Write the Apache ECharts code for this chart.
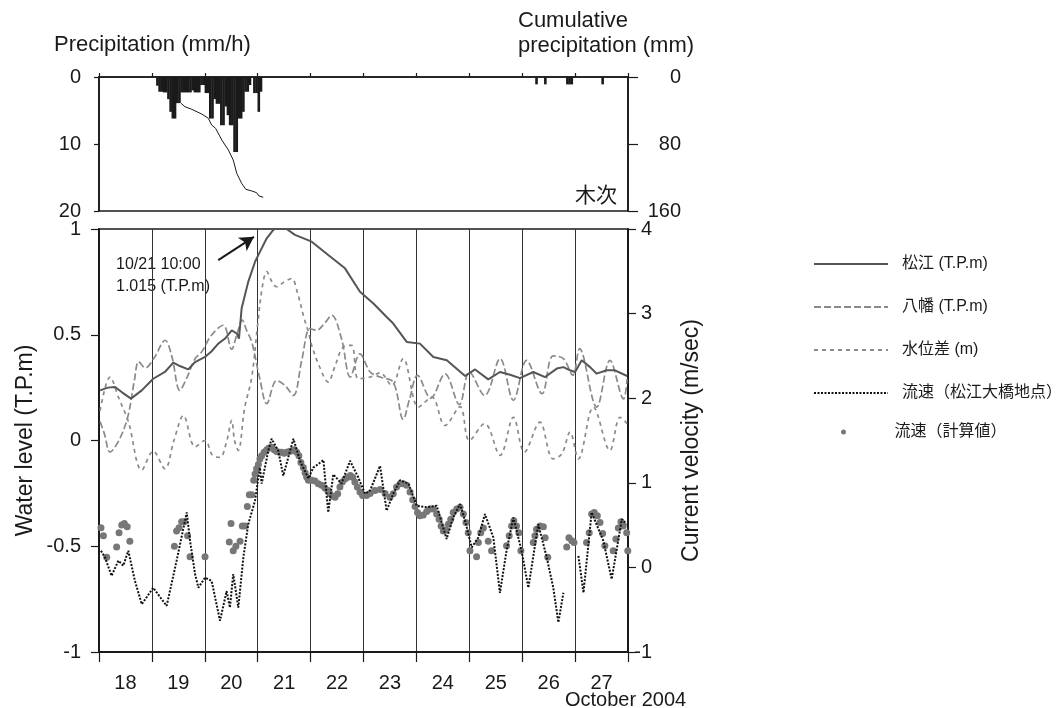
<!DOCTYPE html>
<html>
<head>
<meta charset="utf-8">
<script src="https://cdn.jsdelivr.net/npm/echarts@6/dist/echarts.min.js"></script>
<style>
  html, body { margin: 0; padding: 0; background: #fff; }
  #chart { width: 1063px; height: 708px; }
</style>
</head>
<body>
<div id="chart"></div>
<script>
// Time axis: hours counted from 2004-10-18 00:00 (10 days = 240 h)
const dayLabels = ['18', '19', '20', '21', '22', '23', '24', '25', '26', '27'];

// Hourly precipitation at 木次 (start hour, mm/h)
const rainStart = [26, 27, 28, 29, 30, 31, 32, 33, 34, 35, 36, 37, 38, 39, 40, 41, 42, 43, 44, 45,
  46, 47, 48, 49, 50, 51, 52, 53, 54, 55, 56, 57, 58, 59, 60, 61, 62, 63, 64, 65, 66, 67, 68, 69,
  70, 71, 72, 73, 198, 202, 212, 213, 214, 228];
const rainRate = [1.3, 2.2, 2.2, 2.3, 2.3, 3.3, 5.2, 6.2, 6.2, 3.9, 3.9, 2.3, 2.3, 2.3, 2.3, 2.3, 2.0, 2.3, 2.3, 2.3,
  1.2, 1.2, 2.4, 2.4, 6.2, 6.2, 3.3, 4.0, 4.0, 7.2, 7.2, 4.4, 5.7, 7.2, 7.2, 11.2, 11.2, 6.2, 6.2, 5.2, 2.2, 2.2, 1.2, 0,
  2.4, 2.4, 5.2, 2.2, 1.1, 1.1, 1.1, 1.1, 1.1, 1.1];

// Cumulative precipitation (hour, mm)
const cumulativeRain = [[37.2, 31.4], [39.0, 35.5], [42.1, 38.6], [46.6, 44.2], [49.6, 49.3], [51.1, 57.3],
  [52.9, 61.3], [55.7, 75.2], [58.7, 87.2], [60.9, 99.1], [62.5, 115], [64.7, 126.9], [66.6, 134.1],
  [69.3, 136.1], [71.5, 138.1], [72.6, 142.1], [74.5, 143.6]];

// Water level at 松江 (hour, T.P.m)
const matsue = [[0.5, 0.237], [4, 0.25], [7.3, 0.253], [10.3, 0.229], [14.5, 0.198], [19.4, 0.237], [24.6, 0.292],
  [29.9, 0.324], [33.7, 0.368], [36.7, 0.352], [40.5, 0.336], [43.6, 0.371], [48.1, 0.395], [51.1, 0.422],
  [54.1, 0.458], [57.2, 0.482], [60.2, 0.521], [62.5, 0.506], [63.5, 0.482], [64.7, 0.624], [67.7, 0.75],
  [70.8, 0.845], [73, 0.892], [76.1, 0.956], [79, 0.995], [82, 1.015], [85.1, 1.0], [88.9, 0.972],
  [96.5, 0.94], [104, 0.877], [111.6, 0.814], [118.4, 0.703], [124.5, 0.648], [130.5, 0.584], [133.5, 0.553],
  [139.6, 0.466], [145.6, 0.458], [151.7, 0.395], [157.8, 0.379], [166.1, 0.305], [170.6, 0.336],
  [176.6, 0.289], [181.9, 0.324], [186.5, 0.311], [191, 0.295], [197, 0.324], [202.4, 0.300], [207.7, 0.340],
  [210.7, 0.347], [213.7, 0.332], [216, 0.324], [219, 0.379], [222.8, 0.347], [225.8, 0.316], [230.3, 0.332],
  [234.1, 0.332], [239.6, 0.305]];

// Water level at 八幡 (hour, T.P.m)
const yawata = [[0.5, 0.09], [2.5, 0.03], [5, -0.055], [9, 0.0], [13, 0.11], [16, 0.28], [18, 0.373], [21, 0.343],
  [25, 0.39], [30, 0.474], [33, 0.40], [36.7, 0.237], [40, 0.30], [43.6, 0.387], [46.6, 0.419], [51, 0.498],
  [56.4, 0.545], [60.2, 0.431], [62.5, 0.50], [65, 0.569], [67, 0.52], [69.3, 0.466], [73, 0.29], [76.1, 0.174],
  [80.6, 0.284], [84.4, 0.26], [88.2, 0.213], [92, 0.38], [95.7, 0.529], [98.8, 0.521], [102, 0.55],
  [105.6, 0.592], [110, 0.482], [114, 0.30], [118.4, 0.41], [123, 0.324], [127.5, 0.30], [133.5, 0.276],
  [138, 0.10], [141, 0.2], [144.5, 0.308], [150.5, 0.20], [157, 0.315], [163.5, 0.17], [168, 0.324],
  [175, 0.213], [182, 0.387], [188, 0.19], [194, 0.379], [201, 0.221], [206, 0.40], [210.7, 0.387],
  [215, 0.308], [218, 0.434], [225.8, 0.158], [231.8, 0.379], [238, 0.197], [239.6, 0.29]];

// Level difference 松江 − 八幡 (hour, m)
const levelDiff = [[0.5, 0.14], [5, 0.30], [9, 0.20], [13.3, 0.09], [19.4, -0.14], [24.6, -0.05], [29.9, -0.134],
  [34, 0.0], [38.3, 0.118], [43.6, -0.03], [48.1, 0.0], [51.5, -0.07], [54.9, -0.08], [58, 0.0], [60.2, 0.095],
  [61.5, 0.0], [63.2, -0.047], [66, 0.15], [69.3, 0.30], [72, 0.55], [74, 0.72], [76.1, 0.798], [78.5, 0.75],
  [80.6, 0.727], [84, 0.75], [87.4, 0.766], [90, 0.70], [93, 0.58], [95, 0.513], [96.5, 0.45], [100, 0.35],
  [104, 0.276], [107, 0.35], [110.8, 0.442], [114.6, 0.45], [117.6, 0.292], [123, 0.30], [127.5, 0.32],
  [132.8, 0.26], [138, 0.387], [145, 0.158], [151, 0.205], [157, 0.071], [163.8, 0.16], [168, 0.0],
  [175, 0.08], [182, -0.07], [188, 0.11], [193, -0.055], [200, 0.087], [206, -0.087], [210, -0.063],
  [213.7, 0.04], [217.5, -0.087], [224.3, 0.158], [231.8, -0.047], [236.4, 0.11], [239.6, 0.08]];

// Observed current velocity at 松江大橋 (hour, m/sec); null marks missing record
const velocityObserved = [[0.9, 0.197], [2.7, 0.12], [5.7, -0.10], [8.8, 0.08], [11, 0.02], [13.3, 0.197],
  [16.3, -0.16], [19.4, -0.435], [24.6, -0.24], [28.4, -0.375], [30.7, -0.455], [35.2, 0.078], [39.8, 0.65],
  [41.3, 0.315], [43.6, -0.08], [45.1, -0.24], [48.1, -0.12], [51.1, -0.16], [54.9, -0.63], [57.9, -0.28],
  [59.4, -0.475], [60.9, -0.08], [63.2, -0.475], [65.5, 0.12], [67.7, 0.51], [70.8, 0.79], [73, 1.18],
  [73.8, 0.99], [76.8, 1.38], [78.3, 1.52], [81.3, 1.38], [83.6, 1.085], [88.2, 1.52], [91.2, 1.26],
  [95, 1.05], [97.2, 1.18], [99.5, 1.22], [101.8, 1.27], [104, 0.65], [106.3, 1.1], [110, 0.99],
  [113.9, 1.26], [117.6, 1.065], [120.7, 0.87], [123, 0.91], [127.5, 1.20], [130.5, 0.67], [133.5, 0.87],
  [136.6, 1.03], [140.4, 0.99], [144.1, 0.73], [148.7, 0.71], [153.2, 0.73], [157.7, 0.335], [160.7, 0.59],
  [163.8, 0.75], [166.1, 0.55], [169.1, 0.236], [172.1, 0.354], [175.1, 0.63], [178.9, 0.354], [181.9, -0.30],
  [184.9, 0.197], [188, 0.59], [191.7, 0.197], [194.8, -0.24], [199.3, 0.51], [203.1, 0.12], [206.1, -0.24],
  [208.4, -0.65], [210.7, -0.30], [214, null], [217.5, 0.137], [219.8, -0.30], [223.5, 0.65], [228.8, 0.315],
  [232.6, -0.14], [237.2, 0.57], [239.4, 0.51]];

// Computed current velocity (hour, m/sec)
const velocityComputed = [[0.9, 0.47], [2, 0.375], [3.5, 0.12], [8, 0.24], [9.1, 0.41], [10.3, 0.50], [11.5, 0.52],
  [12.8, 0.48], [14, 0.31], [34.2, 0.25], [35.2, 0.43], [36.3, 0.47], [37.5, 0.54], [38.7, 0.54], [40.2, 0.375],
  [41.3, 0.125], [48.1, 0.125], [59.1, 0.30], [59.9, 0.52], [60.9, 0.197], [62.1, 0.25], [64, 0.31], [65, 0.49],
  [66.2, 0.49], [67.3, 0.72], [68.2, 0.86], [69.3, 0.86], [70.2, 1.03], [70.8, 1.105], [71.5, 1.165], [72.3, 1.215],
  [73, 1.28], [73.8, 1.32], [74.9, 1.36], [76.1, 1.39], [77.1, 1.41], [78.3, 1.42], [79.5, 1.39], [80.6, 1.37],
  [81.8, 1.36], [82.8, 1.36], [84, 1.35], [85.1, 1.36], [86.3, 1.37], [87.4, 1.38], [88.6, 1.39], [89.7, 1.36],
  [90.7, 1.32], [91.6, 1.24], [92.7, 1.18], [93.5, 1.12], [94.2, 1.07], [95, 1.03], [96.5, 1.03], [98, 1.02],
  [99.5, 0.99], [101, 0.97], [102.5, 0.94], [103.8, 0.91], [104.8, 0.87], [105.9, 0.84], [107.1, 0.83],
  [108.3, 0.87], [109.3, 0.95], [110.4, 1.01], [111.6, 1.045], [112.8, 1.065], [114, 1.085], [115.1, 1.065],
  [116.1, 1.01], [117.2, 0.95], [118.4, 0.89], [119.6, 0.85], [121.4, 0.85], [123, 0.875], [125.2, 0.91],
  [127.5, 0.92], [129.8, 0.875], [132, 0.83], [133.5, 0.87], [135, 0.95], [136.6, 0.99], [138, 0.99],
  [139.6, 0.97], [141.1, 0.89], [142.3, 0.80], [143.4, 0.72], [144.5, 0.65], [145.6, 0.61], [147.1, 0.62],
  [148.7, 0.66], [150.2, 0.69], [151.7, 0.69], [153.2, 0.63], [154.3, 0.57], [155.2, 0.49], [156.2, 0.43],
  [157.4, 0.44], [158.5, 0.51], [159.6, 0.57], [160.7, 0.65], [162.3, 0.69], [163.8, 0.71], [165.3, 0.63],
  [166.5, 0.53], [167.5, 0.41], [168.3, 0.197], [171.3, 0.125], [172.1, 0.295], [173.2, 0.41], [174.4, 0.465],
  [176.6, 0.31], [178.1, 0.197], [184.9, 0.256], [186.1, 0.375], [187.2, 0.49], [188.2, 0.55], [189.4, 0.49],
  [190.5, 0.41], [191.4, 0.197], [197, 0.295], [197.8, 0.375], [198.5, 0.45], [200.1, 0.49], [201.6, 0.48],
  [202.4, 0.35], [203.6, 0.12], [212.2, 0.24], [213.2, 0.35], [214.5, 0.315], [215.5, 0.295], [221.2, 0.295],
  [222.4, 0.41], [223.5, 0.63], [224.7, 0.65], [226.1, 0.61], [227.3, 0.53], [228.5, 0.40], [229.5, 0.256],
  [233.3, 0.197], [234.5, 0.335], [235.6, 0.465], [236.8, 0.54], [237.8, 0.49], [239.4, 0.41], [239.9, 0.197]];

// Peak annotation arrow, in data coordinates (hour, level)
const arrowFrom = [54.1, 0.853];
const arrowTo = [70.3, 0.963];

const NAMES = {
  matsue: '松江 (T.P.m)',
  yawata: '八幡 (T.P.m)',
  diff: '水位差 (m)',
  obs: '流速（松江大橋地点）',
  calc: '流速（計算値）'
};

const FONT = '"Liberation Sans", Arial, "Noto Sans CJK JP", sans-serif';
const INK = '#1a1a1a';

// Peak label text derived from the 松江 series
const peak = matsue.reduce((a, b) => (b[1] > a[1] ? b : a));
const pad2 = n => String(n).padStart(2, '0');
const peakDay = 18 + Math.floor(peak[0] / 24);
const peakHour = Math.round(peak[0] % 24);
const peakText = '10/' + peakDay + ' ' + pad2(peakHour) + ':00\n' + peak[1].toFixed(3) + ' (T.P.m)';

const chart = echarts.init(document.getElementById('chart'), null, { renderer: 'canvas' });

const tickLabel = { color: INK, fontSize: 20, fontFamily: FONT };
const blackLine = { show: true, lineStyle: { color: INK, width: 1.6 } };
const legendText = { color: INK, fontSize: 16, fontFamily: FONT, padding: [0, 0, 0, 9] };

chart.setOption({
  animation: false,
  backgroundColor: '#fff',
  textStyle: { fontFamily: FONT },
  grid: [
    { left: 99, right: 435, top: 77, height: 134, show: true, borderColor: INK, borderWidth: 1.6, containLabel: false },
    { left: 99, right: 435, top: 229, height: 423, show: true, borderColor: INK, borderWidth: 1.6, containLabel: false }
  ],
  xAxis: [
    {
      gridIndex: 0, type: 'value', min: 0, max: 240, interval: 24, position: 'top',
      axisLine: blackLine,
      axisTick: { show: true, inside: false, length: 4, lineStyle: { color: INK, width: 1.2 } },
      axisLabel: { show: false }, splitLine: { show: false }
    },
    {
      gridIndex: 1, type: 'value', min: 0, max: 240, interval: 24, show: false
    },
    {
      gridIndex: 1, type: 'category', data: dayLabels, position: 'bottom', boundaryGap: true,
      axisLine: { show: true, onZero: false, lineStyle: { color: INK, width: 2 } },
      axisTick: { show: true, inside: false, length: 10, alignWithLabel: false, lineStyle: { color: INK, width: 1.2 } },
      axisLabel: Object.assign({ margin: 21 }, tickLabel),
      splitLine: { show: true, lineStyle: { color: '#333', width: 1 } }
    }
  ],
  yAxis: [
    {
      gridIndex: 0, type: 'value', inverse: true, min: 0, max: 20, interval: 10, position: 'left',
      axisLine: blackLine,
      axisTick: { show: true, inside: false, length: 5, lineStyle: { color: INK, width: 1.2 } },
      axisLabel: Object.assign({ margin: 18 }, tickLabel),
      splitLine: { show: false }
    },
    {
      gridIndex: 0, type: 'value', inverse: true, min: 0, max: 160, interval: 80, position: 'right',
      axisLine: blackLine,
      axisTick: { show: true, inside: false, length: 10, lineStyle: { color: INK, width: 1.2 } },
      axisLabel: Object.assign({ margin: 53, align: 'right' }, tickLabel),
      splitLine: { show: false }
    },
    {
      gridIndex: 1, type: 'value', min: -1, max: 1, interval: 0.5, position: 'left',
      name: 'Water level (T.P.m)', nameLocation: 'middle', nameRotate: 90, nameGap: 62,
      nameTextStyle: { color: INK, fontSize: 23, fontFamily: FONT },
      axisLine: { show: true, onZero: false, lineStyle: { color: INK, width: 2 } },
      axisTick: { show: true, inside: false, length: 8, lineStyle: { color: INK, width: 1.2 } },
      axisLabel: Object.assign({ margin: 18 }, tickLabel),
      splitLine: { show: false }
    },
    {
      gridIndex: 1, type: 'value', min: -1, max: 4, interval: 1, position: 'right',
      name: 'Current velocity (m/sec)', nameLocation: 'middle', nameRotate: 90, nameGap: 52,
      nameTextStyle: { color: INK, fontSize: 23, fontFamily: FONT },
      axisLine: { show: true, onZero: false, lineStyle: { color: INK, width: 2 } },
      axisTick: { show: true, inside: false, length: 8, lineStyle: { color: INK, width: 1.2 } },
      axisLabel: Object.assign({ margin: 24, align: 'right' }, tickLabel),
      splitLine: { show: false }
    }
  ],
  legend: [
    {
      orient: 'vertical', left: 808, top: 251, itemWidth: 74, itemHeight: 10, itemGap: 27,
      data: [NAMES.matsue, NAMES.yawata, NAMES.diff, NAMES.obs],
      itemStyle: { opacity: 0, borderWidth: 0 },
      textStyle: legendText,
      selectedMode: false
    },
    {
      orient: 'vertical', left: 836, top: 419, itemWidth: 74, itemHeight: 5,
      data: [NAMES.calc],
      textStyle: legendText,
      selectedMode: false
    }
  ],
  graphic: [
    { type: 'text', left: 54, top: 34, style: { text: 'Precipitation (mm/h)', fill: INK, font: '22px ' + FONT } },
    { type: 'text', left: 518, top: 8, style: { text: 'Cumulative\nprecipitation (mm)', fill: INK, font: '22px ' + FONT, lineHeight: 25 } },
    { type: 'text', left: 575, top: 184, style: { text: '木次', fill: INK, font: '21px "Noto Sans CJK JP", sans-serif' } },
    { type: 'text', left: 116, top: 254, style: { text: peakText, fill: INK, font: '16px ' + FONT, lineHeight: 22 } },
    { type: 'text', left: 565, top: 690, style: { text: 'October 2004', fill: INK, font: '20px ' + FONT } }
  ],
  series: [
    {
      name: 'precip', type: 'bar', xAxisIndex: 0, yAxisIndex: 0,
      data: rainStart.map((h, i) => [h + 0.5, rainRate[i]]),
      barWidth: 2.6, itemStyle: { color: INK }, silent: true
    },
    {
      name: 'cumulative', type: 'line', xAxisIndex: 0, yAxisIndex: 1, data: cumulativeRain,
      symbol: 'none', lineStyle: { color: INK, width: 1 }, silent: true
    },
    {
      name: NAMES.yawata, type: 'line', xAxisIndex: 1, yAxisIndex: 2, data: yawata, symbol: 'none', smooth: 0.35,
      color: '#8a8a8a', lineStyle: { color: '#8a8a8a', width: 1.7, type: [7, 3] }
    },
    {
      name: NAMES.diff, type: 'line', xAxisIndex: 1, yAxisIndex: 2, data: levelDiff, symbol: 'none', smooth: 0.35,
      color: '#8a8a8a', lineStyle: { color: '#8a8a8a', width: 1.7, type: [4, 4] }
    },
    {
      name: NAMES.calc, type: 'scatter', xAxisIndex: 1, yAxisIndex: 3, data: velocityComputed,
      symbol: 'circle', symbolSize: 7, itemStyle: { color: '#777', opacity: 1 }
    },
    {
      name: NAMES.obs, type: 'line', xAxisIndex: 1, yAxisIndex: 3, data: velocityObserved, symbol: 'none',
      connectNulls: false, color: '#111', lineStyle: { color: '#111', width: 2, type: [2, 1.5] }
    },
    {
      name: NAMES.matsue, type: 'line', xAxisIndex: 1, yAxisIndex: 2, data: matsue, symbol: 'none',
      color: '#555', lineStyle: { color: '#555', width: 2 },
      markLine: {
        silent: true, symbol: ['none', 'arrow'], symbolSize: [12, 14],
        lineStyle: { color: INK, width: 2, type: 'solid' },
        label: { show: false },
        data: [[{ coord: arrowFrom }, { coord: arrowTo }]]
      }
    }
  ]
});
</script>
</body>
</html>
